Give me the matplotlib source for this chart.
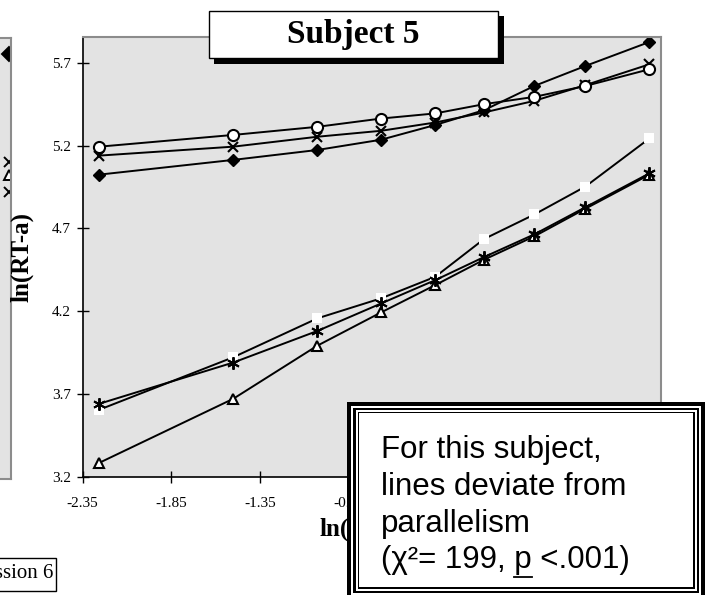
import matplotlib
matplotlib.use('Agg')
import matplotlib.pyplot as plt
from matplotlib.patches import Rectangle
from matplotlib.lines import Line2D

# ln(lag) positions, same for every series
x_vals = [-2.256, -1.501, -1.027, -0.668, -0.363, -0.087, 0.196, 0.484, 0.845]

# upper group
diamond_y = [5.025, 5.114, 5.174, 5.236, 5.325, 5.415, 5.561, 5.682, 5.827]
cross_y = [5.140, 5.194, 5.254, 5.290, 5.340, 5.401, 5.471, 5.566, 5.692]
circle_y = [5.194, 5.265, 5.314, 5.364, 5.395, 5.451, 5.495, 5.561, 5.662]
# lower group
square_y = [3.604, 3.921, 4.156, 4.277, 4.407, 4.636, 4.784, 4.953, 5.244]
star_y = [3.640, 3.889, 4.080, 4.246, 4.387, 4.527, 4.664, 4.828, 5.033]
triangle_y = [3.283, 3.670, 3.991, 4.192, 4.357, 4.511, 4.652, 4.819, 5.025]

x_ticks = [-2.35, -1.85, -1.35, -0.85, -0.35, 0.15, 0.65]
y_ticks = [3.2, 3.7, 4.2, 4.7, 5.2, 5.7]

# bits of the neighbouring chart that peek in on the left
left_marks_y = [5.76, 5.11, 5.03, 4.93]
left_marks = ['D', 'x', '^', 'x']

plt.rcParams['font.family'] = ['Liberation Serif', 'DejaVu Serif']

W, H = 715, 595
fig = plt.figure(figsize=(W / 100, H / 100), dpi=100)


def fx(px):
    return px / W


def fy(py):
    return 1 - py / H


def rect(l, t, r, b, color, z, ec='none', lw=0):
    p = Rectangle((fx(l), fy(b)), fx(r) - fx(l), fy(t) - fy(b), transform=fig.transFigure,
                  facecolor=color, edgecolor=ec, linewidth=lw, zorder=z)
    fig.add_artist(p)
    return p


gray = '#e3e3e3'

# left neighbour panel (cut off)
axl = fig.add_axes([fx(-200), fy(479), fx(211), fy(37.5) - fy(479)])
axl.set_facecolor(gray)
axl.set_xlim(0, 1)
axl.set_ylim(3.2, 5.86)
for sp in axl.spines.values():
    sp.set_color('#8c8c8c')
    sp.set_linewidth(1.5)
axl.set_xticks([])
axl.set_yticks([])
for yy, mk in zip(left_marks_y, left_marks):
    axl.plot([0.99], [yy], marker=mk, color='black', markersize=7, mfc='white' if mk == '^' else 'black',
             mew=1.4, clip_on=True)

ax = fig.add_axes([fx(82.7), fy(476.5), fx(661) - fx(82.7), fy(36.5) - fy(476.5)])
ax.set_facecolor(gray)

lw = 1.4
ax.plot(x_vals, triangle_y, color='black', lw=lw, marker='^', ms=7.5, mfc='white', mec='black', mew=1.5)
ax.plot(x_vals, square_y, color='black', lw=lw, marker='s', ms=6.5, mfc='white', mec='white', mew=0)
ax.plot(x_vals, star_y, color='black', lw=lw, marker=(6, 2, 0), ms=9, mec='black', mew=1.4)
ax.plot(x_vals, diamond_y, color='black', lw=lw, marker='D', ms=6.5, mfc='black', mec='black')
ax.plot(x_vals, cross_y, color='black', lw=lw, marker='x', ms=7.5, mec='black', mew=1.5)
ax.plot(x_vals, circle_y, color='black', lw=lw, marker='o', ms=8, mfc='white', mec='black', mew=1.5)

ax.set_xlim(-2.35, 0.91)
ax.set_ylim(3.2, 5.86)
ax.set_xticks(x_ticks)
ax.set_xticklabels([f'{v:.2f}' for v in x_ticks])
ax.set_yticks(y_ticks)
ax.set_yticklabels([f'{v:.1f}' for v in y_ticks])
ax.tick_params(direction='inout', length=8, width=1, labelsize=11)
ax.tick_params(axis='x', pad=11)
ax.tick_params(axis='y', pad=4.5)

ax.spines['left'].set_color('black')
ax.spines['bottom'].set_color('black')
ax.spines['left'].set_linewidth(1.2)
ax.spines['bottom'].set_linewidth(1.2)
ax.spines['top'].set_color('#8c8c8c')
ax.spines['right'].set_color('#8c8c8c')
ax.spines['top'].set_linewidth(1.5)
ax.spines['right'].set_linewidth(1.5)

ax.set_ylabel('ln(RT-a)', fontsize=18, fontweight='bold')
ax.yaxis.set_label_coords((34 - 82.7) / (661 - 82.7), 0.5)
ax.set_xlabel('ln(length)', fontsize=18, fontweight='bold')
ax.xaxis.set_label_coords(0.5, -(518 - 476.5) / 440)

# title box with shadow
rect(214, 15.5, 503.5, 63.5, 'black', 10)
rect(209, 10.7, 498, 58.3, 'white', 11, ec='black', lw=1)
fig.text(fx(353.5), fy(34), 'Subject 5', fontsize=24, fontweight='bold', ha='center', va='center', zorder=12)

# "Session 6" box at bottom left, cut by the figure edge
rect(-60, 557.5, 56, 590.5, 'white', 10, ec='black', lw=1)
fig.text(fx(53), fy(574), 'Session 6', fontsize=15, ha='right', va='center', zorder=12)

# note box with multiple border
L, T, R, B = 347, 401.5, 705, 599
layers = [(0, 'black'), (4, 'white'), (6, 'black'), (8.5, 'white'), (10.5, 'black'), (12, 'white')]
for k, (d, c) in enumerate(layers):
    rect(L + d, T + d, R - d, B - d, c, 20 + k)

note_lines = ['For this subject,', 'lines deviate from', 'parallelism']
sans = ['Liberation Sans', 'DejaVu Sans']
fs = 22.5
base = [458, 495, 531.7, 568]
for i, line in enumerate(note_lines):
    fig.text(fx(381), fy(base[i]), line, fontsize=fs, family=sans, ha='left', va='baseline', zorder=30)

last_y = fy(base[3])
last = '(χ²= 199, p <.001)'
fig.text(fx(381), last_y, last, fontsize=fs, family=sans, ha='left', va='baseline', zorder=30)
# underline the p
renderer = fig.canvas.get_renderer()
pre = fig.text(fx(381), last_y, '(χ²= 199, ', fontsize=fs, family=sans, ha='left', va='baseline')
pp = fig.text(fx(381), last_y, '(χ²= 199, p', fontsize=fs, family=sans, ha='left', va='baseline')
e_pre = pre.get_window_extent(renderer)
e_pp = pp.get_window_extent(renderer)
pre.remove()
pp.remove()
x0 = e_pre.x1 / W
x1 = e_pp.x1 / W
uy = fy(base[3] + 9)
fig.add_artist(Line2D([x0, x1], [uy, uy], transform=fig.transFigure, color='black', lw=1.3, zorder=31))

fig.savefig('out.png', dpi=100)
